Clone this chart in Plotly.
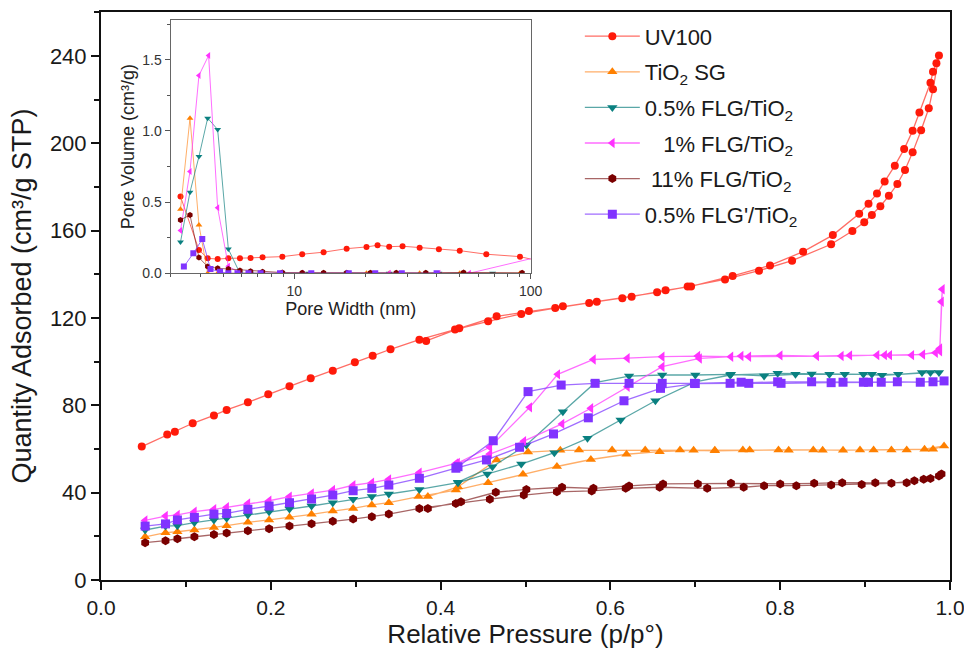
import plotly.graph_objects as go

# ---------------- main isotherm data ----------------
UV_ADS_X = [0.048, 0.078, 0.087, 0.108, 0.133, 0.148, 0.173, 0.197, 0.222, 0.247, 0.273, 0.299, 0.320, 0.341,
            0.375, 0.417, 0.456, 0.495, 0.535, 0.575, 0.614, 0.655, 0.691, 0.735, 0.775, 0.814, 0.860, 0.885,
            0.899, 0.908, 0.918, 0.928, 0.938, 0.947, 0.956, 0.966, 0.975, 0.980, 0.987]
UV_ADS_Y = [61.1, 66.6, 67.9, 71.8, 75.4, 77.9, 81.4, 85.1, 88.7, 92.4, 95.9, 99.7, 102.7, 105.7,
            110.1, 114.7, 118.5, 121.9, 124.6, 126.9, 129.1, 131.8, 134.4, 137.7, 141.7, 146.3, 153.8, 159.9,
            163.9, 167.2, 171.2, 176.0, 181.4, 187.8, 195.9, 206.0, 216.1, 224.8, 240.3]
UV_DES_X = [0.984, 0.980, 0.977, 0.964, 0.956, 0.946, 0.935, 0.923, 0.914, 0.904, 0.893, 0.862, 0.827,
            0.788, 0.744, 0.695, 0.665, 0.625, 0.584, 0.544, 0.504, 0.466, 0.422, 0.383]
UV_DES_Y = [236.7, 232.8, 227.8, 214.2, 205.8, 197.4, 189.8, 182.5, 177.0, 172.4, 167.8, 158.0, 150.4,
            144.1, 139.3, 134.5, 132.7, 129.8, 127.5, 125.4, 123.2, 120.8, 115.3, 109.5]

P_LOW = [0.052, 0.076, 0.090, 0.110, 0.133, 0.148, 0.173, 0.198, 0.222, 0.248, 0.273, 0.297, 0.319, 0.339]

SG_LOW = [19.8, 21.7, 22.1, 22.9, 24.1, 24.9, 26.4, 27.5, 28.7, 30.1, 31.6, 32.8, 34.4, 35.4]
SG_ADS_X = [0.374, 0.418, 0.456, 0.497, 0.537, 0.577, 0.619, 0.658, 0.698, 0.723, 0.764, 0.798, 0.839, 0.874,
            0.910, 0.949, 0.980, 0.993]
SG_ADS_Y = [38.2, 41.2, 44.6, 48.5, 52.0, 55.2, 57.6, 58.8, 59.4, 59.2, 59.6, 59.6, 59.6, 59.4,
            59.6, 59.6, 59.9, 61.4]
SG_DES_X = [0.970, 0.931, 0.894, 0.850, 0.810, 0.756, 0.723, 0.682, 0.641, 0.602, 0.563, 0.541, 0.503,
            0.466, 0.4205, 0.385]
SG_DES_Y = [59.9, 59.6, 59.6, 59.4, 59.4, 59.6, 59.4, 59.6, 59.6, 59.6, 59.6, 59.4, 58.6,
            55.0, 42.7, 38.2]

F05_LOW = [22.9, 24.7, 24.9, 26.3, 27.5, 28.3, 29.8, 31.3, 32.5, 33.9, 35.4, 37.0, 38.2, 39.4]
F05_ADS_X = [0.375, 0.4205, 0.455, 0.495, 0.534, 0.573, 0.612, 0.653, 0.700, 0.741, 0.797, 0.837, 0.876,
             0.908, 0.939, 0.967, 0.987]
F05_ADS_Y = [41.5, 44.6, 48.6, 53.1, 58.3, 64.9, 73.3, 82.1, 90.8, 93.9, 94.7, 94.4, 94.2,
             94.2, 94.2, 95.0, 95.0]
F05_DES_X = [0.977, 0.920, 0.898, 0.858, 0.818, 0.781, 0.742, 0.700, 0.661, 0.622, 0.582, 0.544, 0.501,
             0.461, 0.4205]
F05_DES_Y = [95.0, 93.8, 94.2, 94.2, 94.2, 93.5, 94.2, 93.9, 93.9, 93.4, 90.4, 77.1, 61.8,
             51.9, 44.8]

F1_LOW = [27.3, 29.3, 29.8, 31.3, 32.4, 33.3, 35.1, 36.3, 38.2, 39.7, 41.2, 43.4, 44.6, 46.1]
F1_ADS_X = [0.375, 0.418, 0.458, 0.498, 0.543, 0.577, 0.620, 0.661, 0.705, 0.754, 0.800, 0.843, 0.882,
            0.923, 0.955, 0.983, 0.988, 0.991]
F1_ADS_Y = [49.2, 53.4, 57.7, 63.6, 71.5, 78.7, 88.5, 97.7, 101.5, 102.6, 102.9, 102.6, 102.9,
            103.0, 103.0, 104.1, 106.1, 133.2]
F1_DES_X = [0.990, 0.988, 0.968, 0.929, 0.914, 0.872, 0.763, 0.742, 0.703, 0.661, 0.620, 0.580, 0.538,
            0.505, 0.458, 0.420]
F1_DES_Y = [127.5, 104.8, 103.3, 103.0, 103.0, 102.6, 102.3, 102.3, 102.6, 102.3, 101.6, 101.0, 94.2,
            79.1, 60.8, 53.6]

F11_LOW = [17.1, 18.0, 18.9, 19.8, 20.9, 21.5, 22.6, 23.5, 24.7, 25.8, 26.9, 27.9, 29.0, 30.2]
F11_ADS_X = [0.375, 0.418, 0.458, 0.498, 0.537, 0.578, 0.618, 0.658, 0.714, 0.757, 0.781, 0.819, 0.860,
             0.896, 0.931, 0.958, 0.977, 0.990]
F11_ADS_Y = [32.8, 35.1, 37.0, 38.9, 40.4, 40.8, 42.0, 42.5, 42.0, 42.5, 43.2, 43.2, 43.5,
             43.8, 44.3, 45.5, 46.5, 48.6]
F11_DES_X = [0.987, 0.969, 0.949, 0.912, 0.873, 0.840, 0.800, 0.742, 0.703, 0.662, 0.622, 0.580, 0.543,
             0.501, 0.465, 0.424, 0.385]
F11_DES_Y = [47.6, 46.1, 44.6, 44.5, 44.6, 44.3, 44.0, 44.3, 44.0, 44.0, 43.1, 42.0, 42.5,
             41.5, 40.2, 35.9, 32.8]

FP_LOW = [24.7, 25.7, 27.5, 28.7, 30.2, 30.5, 32.4, 33.9, 35.4, 37.1, 38.9, 40.9, 42.0, 43.5]
FP_ADS_X = [0.375, 0.418, 0.454, 0.493, 0.533, 0.574, 0.616, 0.659, 0.700, 0.741, 0.797, 0.837, 0.874,
            0.904, 0.938, 0.965, 0.993]
FP_ADS_Y = [46.6, 51.2, 55.0, 60.8, 66.9, 74.3, 82.1, 87.8, 90.0, 90.1, 90.8, 90.8, 90.6,
            90.6, 90.8, 90.6, 91.2]
FP_DES_X = [0.980, 0.919, 0.898, 0.860, 0.801, 0.763, 0.754, 0.699, 0.661, 0.622, 0.582, 0.542, 0.503,
            0.462, 0.4205]
FP_DES_Y = [90.8, 90.6, 90.6, 90.4, 90.1, 90.1, 90.6, 90.1, 90.1, 90.1, 90.1, 89.3, 86.3,
            63.8, 51.9]

# ---------------- inset pore-size data ----------------
W_UV = [3.30, 3.95, 4.30, 4.74, 5.26, 5.89, 6.53, 7.34, 8.90, 10.8, 13.3, 16.65, 20.2, 22.5, 25.2, 28.7,
        33.9, 40.9, 50.1, 64.9, 90.1, 120]
V_UV = [0.54, 0.164, 0.105, 0.10, 0.105, 0.105, 0.108, 0.112, 0.117, 0.134, 0.148, 0.173, 0.185, 0.197,
        0.187, 0.19, 0.18, 0.169, 0.159, 0.134, 0.117, 0.07]
W_SG = [3.30, 3.62, 3.95, 4.30, 4.74, 5.26, 5.89, 6.53, 7.34, 8.90, 10.8, 13.3, 16.65, 20.2, 25.2, 33.9, 50.1, 90.1]
V_SG = [0.45, 1.09, 0.34, 0.0, 0.0, 0.0, 0.0, 0.0, 0.0, 0.0, 0.0, 0.0, 0.0, 0.0, 0.0, 0.0, 0.0, 0.0]
W_F05 = [3.30, 3.62, 3.95, 4.30, 4.74, 5.26, 5.89, 6.53, 8.90, 11.5, 16.65, 25.2, 40.9, 69.0]
V_F05 = [0.22, 0.57, 0.82, 1.09, 1.01, 0.17, 0.0, 0.0, 0.0, 0.0, 0.0, 0.0, 0.0, 0.0]
W_F1 = [3.30, 3.62, 3.95, 4.34, 4.74, 5.26, 5.89, 7.34, 10.8, 16.65, 25.2, 40.9, 55.0, 140]
V_F1 = [0.30, 0.715, 1.39, 1.53, 0.46, 0.05, 0.0, 0.0, 0.0, 0.0, 0.0, 0.0, 0.0, 0.16]
W_F11 = [3.30, 3.62, 3.95, 4.30, 4.74, 5.26, 5.89, 6.53, 7.34, 8.90, 10.8, 13.3, 16.65, 21.0, 27.0, 36.0,
         52.0, 92.0]
V_F11 = [0.375, 0.41, 0.11, 0.047, 0.035, 0.03, 0.02, 0.015, 0.01, 0.005, 0.004, 0.003, 0.003, 0.003,
         0.003, 0.003, 0.006, 0.004]
W_FP = [3.41, 3.74, 4.08, 4.42, 4.85, 5.26, 5.75, 6.40, 7.20, 8.70, 11.8, 17.0, 22.0, 28.5, 40.0]
V_FP = [0.047, 0.14, 0.24, 0.03, 0.01, 0.0, 0.0, 0.0, 0.0, 0.0, 0.0, 0.0, 0.0, 0.0, 0.0]

NAMES = ["UV100", "TiO<sub>2</sub> SG", "0.5% FLG/TiO<sub>2</sub>", "\u00a0\u00a0\u00a01% FLG/TiO<sub>2</sub>",
         "\u00a011% FLG/TiO<sub>2</sub>", "0.5% FLG'/TiO<sub>2</sub>"]
MARKER_COLORS = ["#ff1a0a", "#ff8000", "#0a8080", "#ff33ff", "#7a0000", "#8033ff"]
LINE_COLORS = ["rgba(255,60,50,0.75)", "rgba(255,140,40,0.7)", "rgba(20,130,130,0.7)",
               "rgba(255,60,255,0.75)", "rgba(122,20,20,0.65)", "rgba(128,60,255,0.75)"]
SYMBOLS = ["circle", "triangle-up", "triangle-down", "triangle-left", "hexagon", "square"]

main_sets = [
    (UV_ADS_X + UV_DES_X, UV_ADS_Y + UV_DES_Y),
    (P_LOW + SG_ADS_X + SG_DES_X, SG_LOW + SG_ADS_Y + SG_DES_Y),
    (P_LOW + F05_ADS_X + F05_DES_X, F05_LOW + F05_ADS_Y + F05_DES_Y),
    (P_LOW + F1_ADS_X + F1_DES_X, F1_LOW + F1_ADS_Y + F1_DES_Y),
    (P_LOW + F11_ADS_X + F11_DES_X, F11_LOW + F11_ADS_Y + F11_DES_Y),
    (P_LOW + FP_ADS_X + FP_DES_X, FP_LOW + FP_ADS_Y + FP_DES_Y),
]
inset_sets = [(W_UV, V_UV), (W_SG, V_SG), (W_F05, V_F05), (W_F1, V_F1), (W_F11, V_F11), (W_FP, V_FP)]

FONT = "Liberation Sans, Arial, Helvetica, sans-serif"
fig = go.Figure()

for i, (xs, ys) in enumerate(main_sets):
    fig.add_trace(go.Scatter(
        x=xs, y=ys, mode="lines+markers", name=NAMES[i], legendgroup="g%d" % i,
        line=dict(color=LINE_COLORS[i], width=1.3),
        marker=dict(symbol=SYMBOLS[i], color=MARKER_COLORS[i], size=8 if i == 0 else 9,
                    line=dict(width=0)),
        xaxis="x", yaxis="y", showlegend=True))

for i, (xs, ys) in enumerate(inset_sets):
    fig.add_trace(go.Scatter(
        x=xs, y=ys, mode="lines+markers", name=NAMES[i], legendgroup="g%d" % i,
        line=dict(color=LINE_COLORS[i], width=1),
        marker=dict(symbol=SYMBOLS[i], color=MARKER_COLORS[i], size=6, line=dict(width=0)),
        xaxis="x2", yaxis="y2", showlegend=False))

fig.update_layout(
    width=964, height=655,
    margin=dict(l=101, r=14, t=12, b=75),
    paper_bgcolor="white", plot_bgcolor="white",
    font=dict(family=FONT, color="#1a1a1a"),
    xaxis=dict(
        domain=[0, 1], range=[0, 1], dtick=0.2, tickformat=".1f",
        ticks="outside", ticklen=8, tickwidth=2, tickcolor="#111",
        showline=True, linewidth=2, linecolor="#111", mirror=True,
        showgrid=False, zeroline=False, ticklabeloverflow="allow",
        minor=dict(ticks="outside", dtick=0.1, ticklen=5, tickwidth=2, tickcolor="#111", showgrid=False),
        tickfont=dict(size=21, family=FONT),
        title=dict(text="Relative Pressure (p/p°)", font=dict(size=26, family=FONT), standoff=5),
        automargin=False),
    yaxis=dict(
        domain=[0, 1], range=[0, 260.2], dtick=40,
        ticks="outside", ticklen=8, tickwidth=2, tickcolor="#111",
        showline=True, linewidth=2, linecolor="#111", mirror=True,
        showgrid=False, zeroline=False,
        minor=dict(ticks="outside", dtick=20, ticklen=5, tickwidth=2, tickcolor="#111", showgrid=False),
        tickfont=dict(size=22, family=FONT),
        title=dict(text="Quantity Adsorbed (cm³/g STP)", font=dict(size=27, family=FONT), standoff=10),
        automargin=False),
    xaxis2=dict(
        domain=[0.0821, 0.5061], anchor="y2", type="log", range=[0.4771, 2],
        tickvals=[10, 100], ticktext=["10", "100"],
        ticks="outside", ticklen=5, tickwidth=1, tickcolor="#555",
        showline=True, linewidth=1.2, linecolor="#666", mirror=True,
        showgrid=False, zeroline=False,
        minor=dict(ticks="outside", ticklen=3, tickcolor="#555",
                   tickvals=[3, 4, 5, 6, 7, 8, 9, 20, 30, 40, 50, 60, 70, 80, 90]),
        tickfont=dict(size=14, family=FONT, color="#333"),
        title=dict(text="Pore Width (nm)", font=dict(size=18, family=FONT, color="#222"), standoff=4),
        automargin=False),
    yaxis2=dict(
        domain=[0.540, 0.986], anchor="x2", range=[0, 1.78],
        tickvals=[0, 0.5, 1.0, 1.5], ticktext=["0.0", "0.5", "1.0", "1.5"],
        ticks="outside", ticklen=5, tickwidth=1, tickcolor="#555",
        showline=True, linewidth=1.2, linecolor="#666", mirror=True,
        showgrid=False, zeroline=False,
        minor=dict(ticks="outside", ticklen=3, tickcolor="#555", dtick=0.25),
        tickfont=dict(size=14, family=FONT, color="#333"),
        title=dict(text="Pore Volume (cm³/g)", font=dict(size=18, family=FONT, color="#222"), standoff=3),
        automargin=False),
    legend=dict(
        x=0.564, y=0.994, xanchor="left", yanchor="top",
        bgcolor="rgba(255,255,255,0)", borderwidth=0,
        font=dict(size=22, family=FONT, color="#1a1a1a"),
        itemwidth=55, tracegroupgap=4),
)

fig.write_html("out.html", config={"displayModeBar": False},
               post_script="document.body.style.margin='0';document.body.style.padding='0';"
                           "document.body.style.overflow='hidden';")
